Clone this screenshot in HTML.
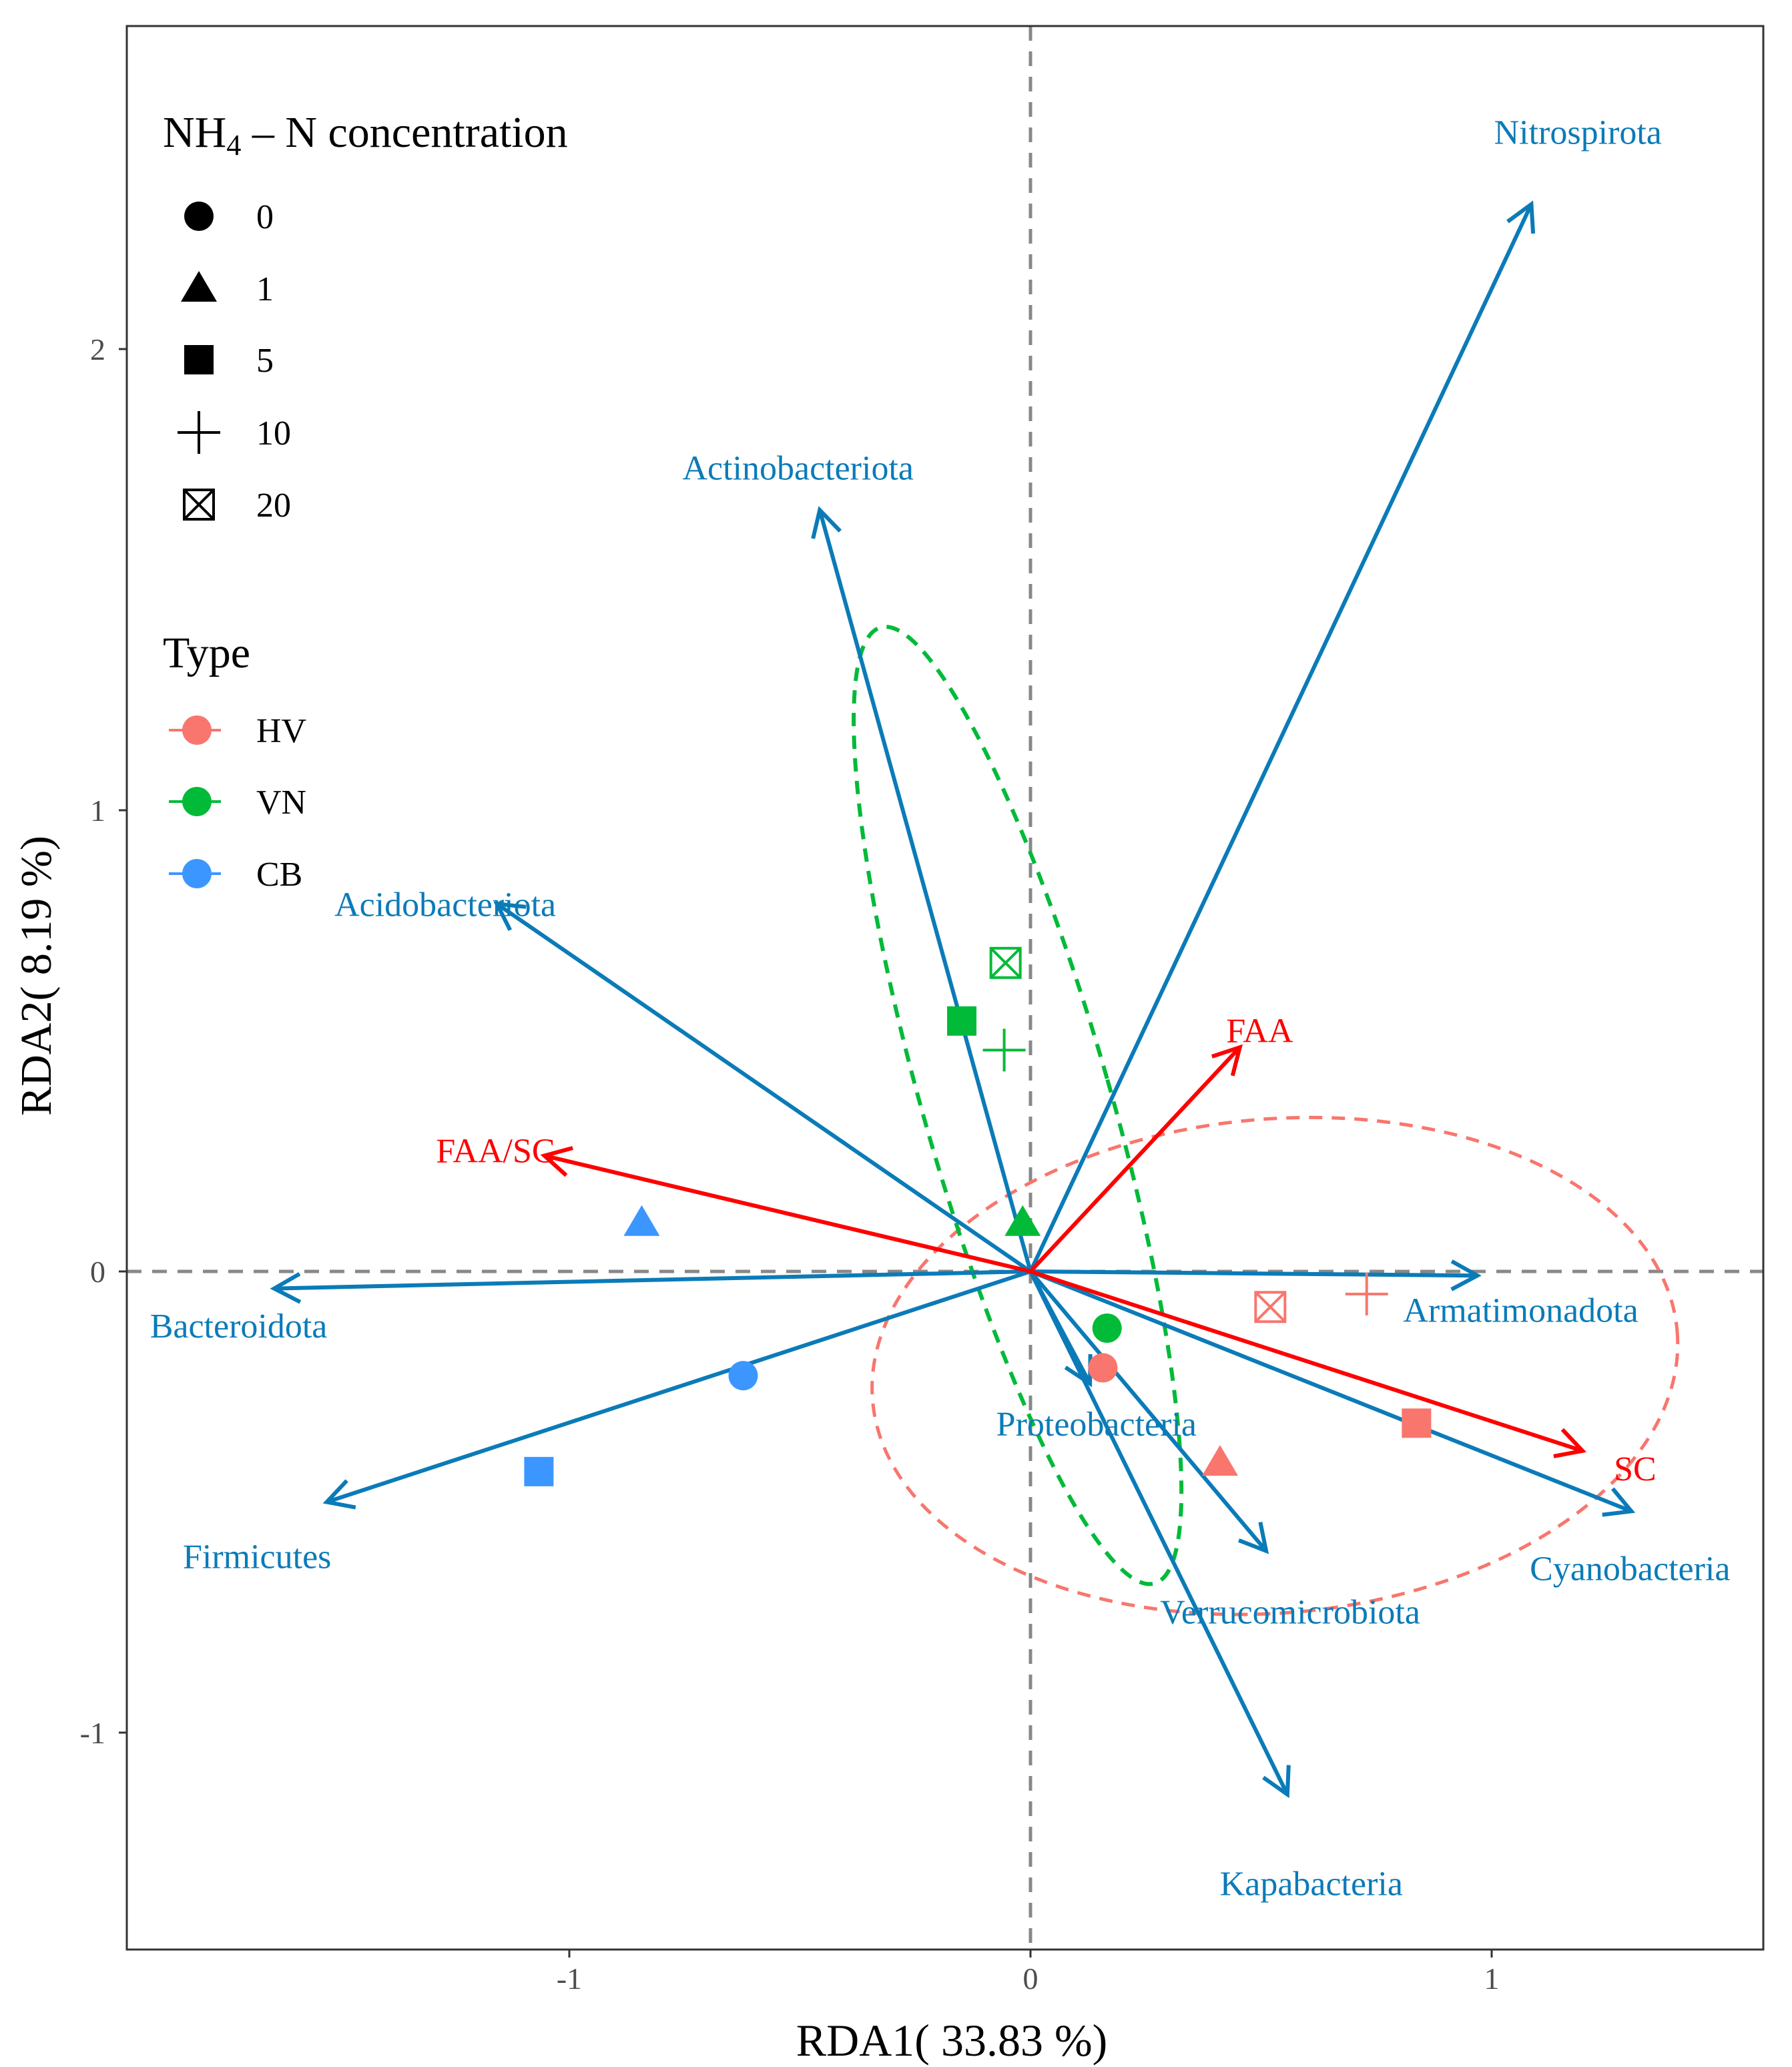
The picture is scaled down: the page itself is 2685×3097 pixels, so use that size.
<!DOCTYPE html>
<html><head><meta charset="utf-8"><style>
html,body{margin:0;padding:0;background:#fff}
svg{display:block}
text{font-family:"Liberation Serif",serif}
</style></head><body>
<svg id="chart" width="2685" height="3097" viewBox="0 0 2685 3097" xmlns="http://www.w3.org/2000/svg">
<rect x="0" y="0" width="2685" height="3097" fill="#fff"/>
<g id="plot"></g>
<rect x="190" y="39" width="2452" height="2882" fill="none" stroke="#333" stroke-width="3"/>
<text x="1426" y="3080" font-size="68" text-anchor="middle" fill="#000">RDA1( 33.83 %)</text>
<text x="0" y="0" font-size="66" text-anchor="middle" fill="#000" transform="translate(76,1462) rotate(-90)">RDA2( 8.19 %)</text>
<g>
<text x="244" y="220" font-size="66" fill="#000">NH<tspan font-size="44" dy="12">4</tspan><tspan dy="-12"> – N concentration</tspan></text>
</g>
<g>
<text x="244" y="1000" font-size="66" fill="#000">Type</text>
</g>
</svg>
<script>
const xTicks = [-1, 0, 1];
const yTicks = [-1, 0, 1, 2];
const arrowNames = ["Nitrospirota","Actinobacteriota","Acidobacteriota","Bacteroidota","Armatimonadota","Cyanobacteria","Verrucomicrobiota","Kapabacteria","Proteobacteria","Firmicutes"];
const arrowX = [1.086,-0.457,-1.157,-1.64,0.969,1.303,0.511,0.557,0.129,-1.526];
const arrowY = [2.314,1.651,0.797,-0.037,-0.009,-0.52,-0.606,-1.134,-0.243,-0.5];
const arrowLabelX = [1.187,-0.504,-1.269,-1.717,1.063,1.300,0.563,0.609,0.143,-1.677];
const arrowLabelY = [2.471,1.743,0.797,-0.117,-0.083,-0.643,-0.737,-1.326,-0.330,-0.617];
const envNames = ["FAA","FAA/SC","SC"];
const envX = [0.454,-1.054,1.197];
const envY = [0.486,0.251,-0.389];
const envLabelX = [0.497,-1.16,1.311];
const envLabelY = [0.523,0.263,-0.427];
const ptType = ["HV","HV","HV","HV","HV","VN","VN","VN","VN","VN","CB","CB","CB"];
const ptConc = ["0","1","5","10","20","0","1","5","10","20","0","1","5"];
const ptX = [0.157,0.411,0.837,0.729,0.52,0.166,-0.017,-0.149,-0.057,-0.054,-0.623,-0.843,-1.066];
const ptY = [-0.209,-0.414,-0.329,-0.049,-0.077,-0.123,0.106,0.543,0.48,0.669,-0.226,0.106,-0.434];
const typeNames = ["HV","VN","CB"];
const typeColors = ["#F8766D","#00BA38","#3B97FF"];
const concNames = ["0","1","5","10","20"];

const NS="http://www.w3.org/2000/svg";
const U=691, X0=1544, Y0=1905;
const sx=v=>X0+v*U, sy=v=>Y0-v*U;
const svg=document.getElementById('chart');
const plot=document.getElementById('plot');
function mk(tag,attrs,parent){const e=document.createElementNS(NS,tag);for(const k in attrs)e.setAttribute(k,attrs[k]);(parent||plot).appendChild(e);return e;}

xTicks.forEach(t=>{
 const l=mk('line',{x1:sx(t),x2:sx(t),y1:2921,y2:2933,stroke:'#333','stroke-width':3},svg);
 
 
 const tx=mk('text',{x:sx(t),y:2980,'font-size':46,'text-anchor':'middle',fill:'#4d4d4d'},svg);
 tx.textContent=t;
 
 
});
yTicks.forEach(t=>{
 const l=mk('line',{x1:178,x2:190,y1:sy(t),y2:sy(t),stroke:'#333','stroke-width':3},svg);
 
 
 const tx=mk('text',{x:158,y:sy(t)+16,'font-size':46,'text-anchor':'end',fill:'#4d4d4d'},svg);
 tx.textContent=t;
 
 
});

const h=mk('line',{x1:190,x2:2642,y1:sy(0),y2:sy(0),stroke:'#888','stroke-width':5,'stroke-dasharray':'22 16'});


const v=mk('line',{x1:sx(0),x2:sx(0),y1:39,y2:2921,stroke:'#888','stroke-width':5,'stroke-dasharray':'22 16'});



const e1=mk('ellipse',{cx:sx(0.53),cy:sy(-0.205),rx:605,ry:370,fill:'none',stroke:'#F8766D','stroke-width':5,'stroke-dasharray':'20 14',transform:`rotate(-5 ${sx(0.53)} ${sy(-0.205)})`});


const e2=mk('ellipse',{cx:sx(-0.028),cy:sy(0.36),rx:140,ry:745,fill:'none',stroke:'#00BA38','stroke-width':6,'stroke-dasharray':'20 14',transform:`rotate(-16 ${sx(-0.028)} ${sy(0.36)})`});



function arrow(x,y,color,name){
 const g=mk('g',{});
 
 
 const x1=sx(0),y1=sy(0),x2=sx(x),y2=sy(y);
 mk('line',{x1,y1,x2,y2,stroke:color,'stroke-width':6},g);
 const a=Math.atan2(y2-y1,x2-x1),L=44,w=0.5;
 const p=`M${x2-L*Math.cos(a-w)},${y2-L*Math.sin(a-w)} L${x2},${y2} L${x2-L*Math.cos(a+w)},${y2-L*Math.sin(a+w)}`;
 mk('path',{d:p,fill:'none',stroke:color,'stroke-width':6},g);
}
arrowNames.forEach((n,i)=>{
 arrow(arrowX[i],arrowY[i],'#0B7BB8',n.toLowerCase()+'-arrow');
});
envNames.forEach((n,i)=>{
 arrow(envX[i],envY[i],'#FF0000',n.toLowerCase().replace('/','-')+'-arrow');
});

function shape(kind,cx,cy,color,parent){
 const g=mk('g',{},parent);
 const s=22;
 if(kind==='0') mk('circle',{cx,cy,r:s,fill:color},g);
 else if(kind==='1') mk('path',{d:`M${cx},${cy-s-4} L${cx+s+5},${cy+s-2} L${cx-s-5},${cy+s-2}Z`,fill:color},g);
 else if(kind==='5') mk('rect',{x:cx-s,y:cy-s,width:2*s,height:2*s,fill:color},g);
 else if(kind==='10') mk('path',{d:`M${cx-32},${cy} H${cx+32} M${cx},${cy-32} V${cy+32}`,stroke:color,'stroke-width':4,fill:'none'},g);
 else mk('path',{d:`M${cx-s},${cy-s} h${2*s} v${2*s} h${-2*s}Z M${cx-s},${cy-s} L${cx+s},${cy+s} M${cx+s},${cy-s} L${cx-s},${cy+s}`,stroke:color,'stroke-width':4,fill:'none'},g);
 return g;
}
ptX.forEach((x,i)=>{
 const g=shape(ptConc[i],sx(x),sy(ptY[i]),typeColors[typeNames.indexOf(ptType[i])]);
 
 
});

arrowNames.forEach((n,i)=>{
 const t=mk('text',{x:sx(arrowLabelX[i]),y:sy(arrowLabelY[i])+18,'font-size':52,'text-anchor':'middle',fill:'#0B7BB8'});
 t.textContent=n;
 
 
});
envNames.forEach((n,i)=>{
 const t=mk('text',{x:sx(envLabelX[i]),y:sy(envLabelY[i])+18,'font-size':52,'text-anchor':'middle',fill:'#FF0000'});
 t.textContent=n;
 
 
});

const legYs=[324,432,539,648,756];
concNames.forEach((c,i)=>{
 const g=shape(c,298,legYs[i],'#000',svg);
 
 
 const t=mk('text',{x:384,y:legYs[i]+18,'font-size':52,fill:'#000'},svg);
 t.textContent=c;
 
 
});
const typeYs=[1094,1201,1309];
typeNames.forEach((n,i)=>{
 const g=mk('g',{},svg);
 
 
 mk('line',{x1:253,x2:331,y1:typeYs[i],y2:typeYs[i],stroke:typeColors[i],'stroke-width':4},g);
 mk('circle',{cx:295,cy:typeYs[i],r:22,fill:typeColors[i]},g);
 const t=mk('text',{x:384,y:typeYs[i]+18,'font-size':52,fill:'#000'},g);
 t.textContent=n;
});
</script>
</body></html>
